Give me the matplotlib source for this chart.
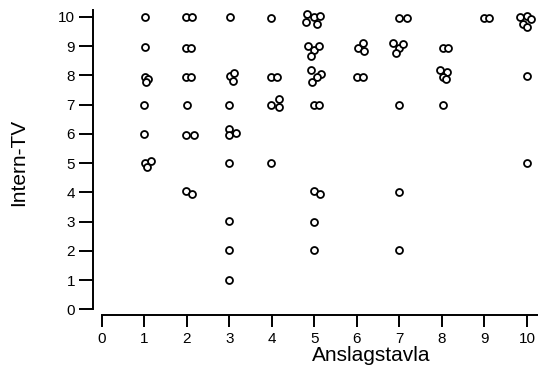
import matplotlib
matplotlib.use("Agg")
import matplotlib.pyplot as plt

# Jittered responses: Anslagstavla (x) vs Intern-TV (y)
anslagstavla = [
    1.01, 1.01, 1.01, 1.09, 1.04, 1.00, 1.00, 1.01, 1.15, 1.07,
    1.97, 2.11, 1.97, 2.09, 1.97, 2.09, 2.00, 1.98, 2.17, 1.98, 2.13,
    3.01, 3.01, 3.10, 3.09, 3.00, 3.00, 2.99, 3.15, 3.00, 3.00, 3.00, 3.00,
    3.98, 3.98, 4.12, 3.97, 4.17, 4.17, 3.98,
    4.82, 4.80, 4.99, 5.13, 5.05, 4.86, 4.99, 5.11, 4.93,
    4.93, 4.95, 5.15, 5.06, 4.99, 5.11, 4.99, 5.13, 5.00, 5.00,
    6.03, 6.15, 6.17, 6.01, 6.15,
    7.00, 7.17, 6.85, 7.00, 7.09, 6.92, 7.00, 7.00, 7.00,
    8.02, 8.15, 7.95, 8.11, 8.02, 8.09, 8.02,
    9.00, 9.11,
    9.84, 9.99, 10.10, 9.90, 10.00, 9.99, 10.00,
]
intern_tv = [
    9.98, 8.95, 7.95, 7.87, 7.78, 6.98, 5.98, 4.99, 5.08, 4.87,
    10.00, 10.00, 8.92, 8.92, 7.95, 7.95, 6.98, 5.96, 5.96, 4.04, 3.96,
    10.00, 7.97, 8.09, 7.80, 6.98, 6.15, 5.97, 6.03, 4.99, 3.01, 2.03, 1.00,
    9.95, 7.95, 7.95, 6.98, 7.18, 6.90, 4.99,
    10.09, 9.83, 10.00, 10.02, 9.75, 9.00, 8.86, 9.00, 8.65,
    8.18, 7.78, 8.04, 7.93, 6.98, 6.98, 4.04, 3.96, 3.00, 2.03,
    8.92, 9.09, 8.84, 7.95, 7.95,
    9.95, 9.95, 9.09, 8.92, 9.07, 8.77, 6.98, 4.02, 2.03,
    8.92, 8.92, 8.18, 8.12, 7.93, 7.86, 6.98,
    9.95, 9.95,
    10.00, 10.02, 9.91, 9.75, 9.66, 7.97, 4.99,
]
x_ticks = list(range(0, 11))
y_ticks = list(range(0, 11))

plt.rcParams['font.family'] = ['Liberation Sans', 'DejaVu Sans']

fig = plt.figure(figsize=(5.38, 3.72), dpi=100)
ax = fig.add_axes([0.1729, 0.1532, 0.8271, 0.8199])

ax.plot(anslagstavla, intern_tv, linestyle='none', marker='o', markersize=5,
        markerfacecolor='white', markeredgecolor='black', markeredgewidth=1.3)

x_top = 10.26
y_top = 10.23
ax.set_xlim(-0.21, x_top)
ax.set_ylim(-0.19, y_top)

ax.spines['top'].set_visible(False)
ax.spines['right'].set_visible(False)
ax.spines['left'].set_bounds(0, y_top)
ax.spines['bottom'].set_bounds(0, x_top)
for side in ['left', 'bottom']:
    ax.spines[side].set_linewidth(1.4)

ax.set_xticks(x_ticks)
ax.set_yticks(y_ticks)
ax.tick_params(axis='x', length=8.5, width=1.4, pad=4, labelsize=11)
ax.tick_params(axis='y', length=10, width=1.4, pad=3, labelsize=11)

ax.set_xlabel('Anslagstavla', fontsize=15)
ax.xaxis.set_label_coords(0.625, -0.1)
ax.set_ylabel('Intern-TV', fontsize=15)
ax.yaxis.set_label_coords(-0.145, 0.5)

fig.savefig('out.png', dpi=100)
